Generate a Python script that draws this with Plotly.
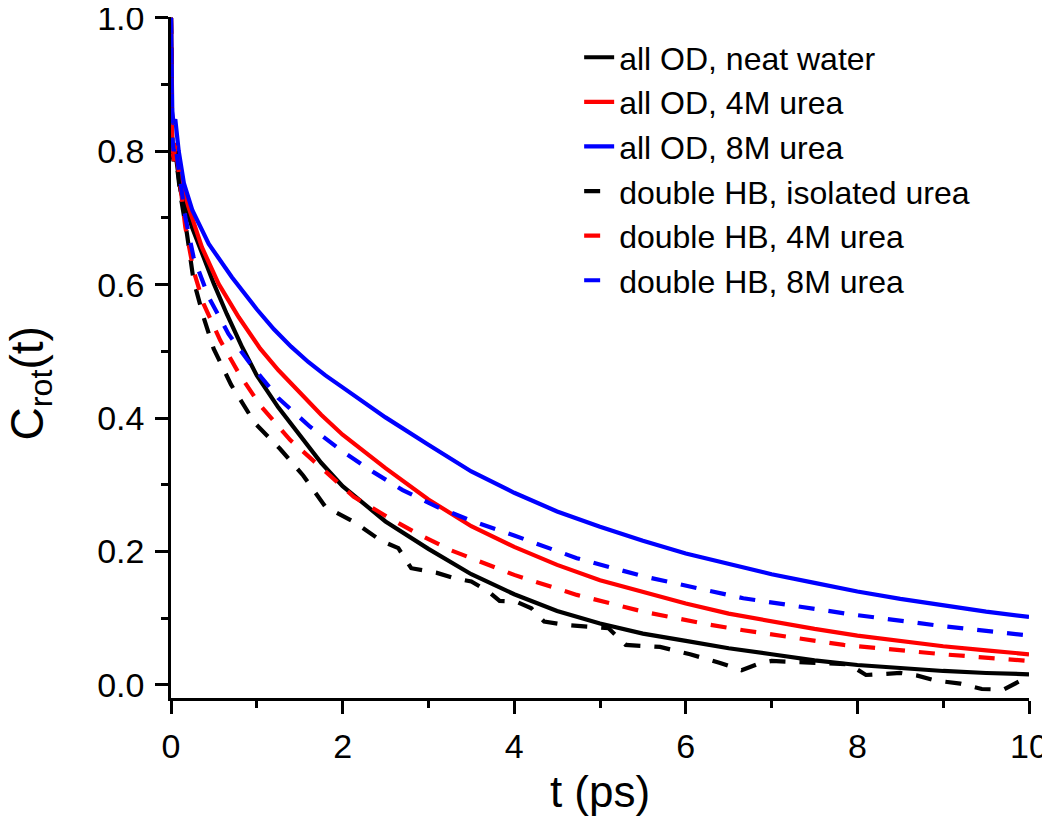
import plotly.graph_objects as go

# all OD, neat water
t_od_water = [0, 0.015, 0.03, 0.05, 0.11, 0.245, 0.5, 0.65, 0.83, 1.0, 1.25, 1.5, 1.75, 2.0, 2.5, 3.0,
              3.5, 4.0, 4.5, 5.0, 5.5, 6.0, 6.5, 7.0, 7.5, 8.0, 8.5, 9.0, 9.5, 10.0]
c_od_water = [1.0, 0.80, 0.785, 0.80, 0.741, 0.686, 0.601, 0.556, 0.506, 0.464, 0.416, 0.374, 0.333, 0.298,
              0.245, 0.204, 0.166, 0.136, 0.111, 0.092, 0.077, 0.066, 0.055, 0.046, 0.037, 0.030, 0.025,
              0.021, 0.018, 0.016]

# all OD, 4M urea
t_od_4m = [0, 0.015, 0.03, 0.06, 0.13, 0.2, 0.36, 0.555, 0.79, 1.04, 1.25, 1.5, 1.75, 2.0, 2.5, 3.0, 3.5,
           4.0, 4.5, 5.0, 5.5, 6.0, 6.5, 7.0, 7.5, 8.0, 8.5, 9.0, 9.5, 10.0]
c_od_4m = [1.0, 0.80, 0.79, 0.812, 0.751, 0.718, 0.656, 0.601, 0.551, 0.504, 0.472, 0.438, 0.405, 0.375,
           0.325, 0.278, 0.238, 0.207, 0.180, 0.157, 0.139, 0.122, 0.107, 0.095, 0.084, 0.074, 0.066,
           0.058, 0.052, 0.046]

# all OD, 8M urea
t_od_8m = [0, 0.015, 0.03, 0.05, 0.09, 0.15, 0.25, 0.44, 0.71, 1.0, 1.2, 1.4, 1.6, 1.8, 2.0, 2.5, 3.0,
           3.5, 4.0, 4.5, 5.0, 5.5, 6.0, 6.5, 7.0, 7.5, 8.0, 8.5, 9.0, 9.5, 10.0]
c_od_8m = [1.0, 0.86, 0.84, 0.848, 0.80, 0.752, 0.711, 0.661, 0.611, 0.563, 0.533, 0.507, 0.484, 0.464,
           0.446, 0.401, 0.360, 0.320, 0.288, 0.260, 0.237, 0.216, 0.197, 0.181, 0.166, 0.153, 0.140,
           0.129, 0.119, 0.110, 0.102]

# double HB, isolated urea
t_hb_iso = [0, 0.015, 0.03, 0.05, 0.108, 0.186, 0.263, 0.38, 0.497, 0.7, 0.98, 1.27, 1.54, 1.8, 2.14,
            2.45, 2.65, 2.8, 3.1, 3.3, 3.5, 3.7, 3.83, 4.02, 4.2, 4.35, 4.6, 5.1, 5.3, 5.7, 6.05, 6.4,
            6.65, 6.85, 7.0, 7.5, 7.9, 8.1, 8.5, 8.7, 8.9, 9.2, 9.45, 9.7, 10.0]
c_hb_iso = [1.0, 0.80, 0.78, 0.80, 0.736, 0.676, 0.606, 0.551, 0.504, 0.45, 0.392, 0.354, 0.314, 0.267,
            0.244, 0.216, 0.205, 0.175, 0.168, 0.160, 0.155, 0.140, 0.126, 0.125, 0.115, 0.095, 0.090,
            0.085, 0.060, 0.057, 0.046, 0.033, 0.022, 0.032, 0.036, 0.034, 0.031, 0.015, 0.018, 0.014,
            0.007, 0.002, -0.006, -0.007, 0.013]

# double HB, 4M urea
t_hb_4m = [0, 0.015, 0.03, 0.05, 0.167, 0.263, 0.38, 0.575, 0.8, 1.04, 1.39, 1.78, 2.13, 2.52, 2.87,
           3.26, 4.0, 4.73, 5.5, 6.29, 6.67, 7.84, 9.0, 10.0]
c_hb_4m = [1.0, 0.80, 0.78, 0.811, 0.686, 0.621, 0.571, 0.516, 0.465, 0.419, 0.367, 0.322, 0.282, 0.252,
           0.227, 0.202, 0.165, 0.135, 0.110, 0.090, 0.082, 0.060, 0.046, 0.036]

# double HB, 8M urea
t_hb_8m = [0, 0.015, 0.03, 0.05, 0.167, 0.263, 0.44, 0.67, 0.92, 1.25, 1.62, 2.0, 2.36, 2.7, 3.1, 3.5,
           4.0, 4.73, 5.5, 6.29, 6.67, 7.92, 9.0, 10.0]
c_hb_8m = [1.0, 0.82, 0.80, 0.81, 0.701, 0.641, 0.581, 0.526, 0.482, 0.430, 0.387, 0.350, 0.319, 0.292,
           0.267, 0.246, 0.224, 0.190, 0.163, 0.140, 0.130, 0.106, 0.088, 0.074]

series = [
    ("all OD, neat water", t_od_water, c_od_water, "#000000", "solid"),
    ("all OD, 4M urea", t_od_4m, c_od_4m, "#ff0000", "solid"),
    ("all OD, 8M urea", t_od_8m, c_od_8m, "#0000ff", "solid"),
    ("double HB, isolated urea", t_hb_iso, c_hb_iso, "#000000", "16px,14px"),
    ("double HB, 4M urea", t_hb_4m, c_hb_4m, "#ff0000", "16px,14px"),
    ("double HB, 8M urea", t_hb_8m, c_hb_8m, "#0000ff", "16px,14px"),
]

FONT = "Arial, Liberation Sans, sans-serif"

fig = go.Figure()
for name, t, c, color, dash in series:
    fig.add_trace(go.Scatter(x=t, y=c, mode="lines", name=name,
                             line=dict(color=color, width=4.2, dash=dash)))

axis_common = dict(showline=True, linecolor="black", linewidth=2.5, showgrid=False, zeroline=False,
                   ticks="outside", ticklen=13, tickwidth=2.5, tickcolor="black", automargin=False,
                   ticklabeloverflow="allow",
                   tickfont=dict(family=FONT, size=34, color="black"))

fig.update_xaxes(range=[0, 10], dtick=2, tick0=0,
                 minor=dict(ticks="outside", ticklen=7, tickwidth=2.5, tickcolor="black", dtick=1),
                 title=dict(text="t (ps)", font=dict(family=FONT, size=44, color="black"), standoff=13),
                 ticklabelstandoff=3, **axis_common)
fig.update_yaxes(range=[-0.0195, 1.001], dtick=0.2, tick0=0, tickformat=".1f",
                 minor=dict(ticks="outside", ticklen=7, tickwidth=2.5, tickcolor="black", dtick=0.1),
                 ticklabelstandoff=4, **axis_common)

# y title placed as an annotation so it sits a little below the axis centre, as in the original
fig.add_annotation(text="C<sub>rot</sub>(t)", textangle=-90, showarrow=False,
                   xref="paper", yref="paper", x=-0.1643, y=0.462, xanchor="center", yanchor="middle",
                   font=dict(family=FONT, size=46, color="black"))

# the page body adds an 8px margin, so the figure is offset to land on the window
fig.update_layout(
    width=1042, height=816,
    margin=dict(l=163, r=21, t=9, b=126),
    plot_bgcolor="white", paper_bgcolor="white",
    font=dict(family=FONT, color="black"),
    legend=dict(x=0.4757, y=0.981, xanchor="left", yanchor="top", bgcolor="rgba(0,0,0,0)",
                font=dict(family=FONT, size=32, color="black"), traceorder="normal"),
)

fig.write_html("out.html")
